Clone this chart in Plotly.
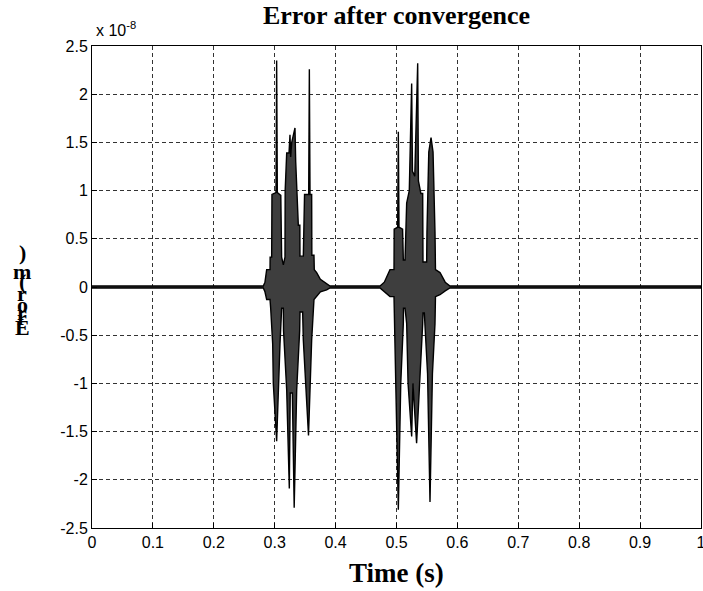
import plotly.graph_objects as go

# ---------------- data ----------------
# error envelope, units of 1e-8 m
t_upper = [0.0, 0.2813, 0.2840, 0.2868, 0.2923, 0.2925, 0.2950, 0.2955, 0.3021, 0.3032, 0.3043,
           0.3100, 0.3114, 0.3142, 0.3169, 0.3172, 0.3197, 0.3235, 0.3251, 0.3262, 0.3280,
           0.3333, 0.3345, 0.3360, 0.3388, 0.3413, 0.3415, 0.3470, 0.3490, 0.3558, 0.3569,
           0.3580, 0.3607, 0.3610, 0.3645, 0.3650, 0.3689, 0.3750, 0.3853, 0.3908,
           0.4729, 0.4800, 0.4893, 0.4959, 0.4962, 0.5019, 0.5030, 0.5041, 0.5100, 0.5112,
           0.5140, 0.5167, 0.5210, 0.5249, 0.5262, 0.5300, 0.5348, 0.5360, 0.5400, 0.5430,
           0.5435, 0.5495, 0.5500, 0.5530, 0.5567, 0.5600, 0.5632, 0.5640, 0.5714, 0.5800,
           0.5878, 1.0]
e_upper = [0.01, 0.01, 0.05, 0.18, 0.18, 0.31, 0.31, 0.96, 0.98, 2.35, 0.98,
           0.95, 0.31, 0.23, 0.31, 1.00, 1.39, 1.39, 1.58, 1.35, 1.50,
           1.65, 1.30, 1.00, 0.64, 0.64, 0.32, 0.32, 0.96, 0.96, 2.26,
           0.96, 0.96, 0.33, 0.33, 0.18, 0.15, 0.08, 0.04, 0.01,
           0.01, 0.05, 0.18, 0.18, 0.60, 0.62, 1.61, 0.62, 0.60, 0.28,
           0.28, 0.87, 1.00, 2.11, 1.20, 1.15, 2.32, 1.10, 0.97, 0.97,
           0.26, 0.26, 0.57, 1.40, 1.55, 1.40, 0.57, 0.18, 0.15, 0.05,
           0.01, 0.01]

t_lower = [0.0, 0.2813, 0.2840, 0.2868, 0.2923, 0.2934, 0.2967, 0.2977, 0.3032, 0.3060, 0.3087,
           0.3114, 0.3142, 0.3145, 0.3197, 0.3240, 0.3255, 0.3290, 0.3320, 0.3361, 0.3410,
           0.3415, 0.3459, 0.3470, 0.3500, 0.3555, 0.3590, 0.3607, 0.3645, 0.3689, 0.3750,
           0.3853, 0.3908,
           0.4729, 0.4800, 0.4893, 0.4959, 0.4962, 0.4990, 0.5030, 0.5070, 0.5112, 0.5115,
           0.5140, 0.5167, 0.5190, 0.5249, 0.5270, 0.5330, 0.5380, 0.5430, 0.5435, 0.5457,
           0.5460, 0.5510, 0.5550, 0.5590, 0.5632, 0.5640, 0.5714, 0.5800, 0.5878, 1.0]
e_lower = [-0.01, -0.01, -0.05, -0.13, -0.13, -0.22, -0.59, -1.00, -1.60, -1.00, -0.59,
           -0.22, -0.22, -0.45, -1.07, -2.09, -1.10, -1.10, -2.29, -1.07, -0.45,
           -0.26, -0.26, -0.55, -0.90, -1.54, -0.90, -0.55, -0.13, -0.10, -0.05,
           -0.03, -0.01,
           -0.01, -0.05, -0.10, -0.10, -0.38, -1.00, -2.31, -1.00, -0.38, -0.22,
           -0.22, -0.38, -1.00, -1.55, -1.00, -1.62, -1.00, -0.38, -0.27, -0.27,
           -0.38, -0.90, -2.23, -0.90, -0.38, -0.10, -0.08, -0.04, -0.01, -0.01]

x_ticks = [0, 0.1, 0.2, 0.3, 0.4, 0.5, 0.6, 0.7, 0.8, 0.9, 1]
x_tick_labels = ["0", "0.1", "0.2", "0.3", "0.4", "0.5", "0.6", "0.7", "0.8", "0.9", "1"]
y_ticks = [-2.5, -2, -1.5, -1, -0.5, 0, 0.5, 1, 1.5, 2, 2.5]
y_tick_labels = ["-2.5", "-2", "-1.5", "-1", "-0.5", "0", "0.5", "1", "1.5", "2", "2.5"]

title_text = "Error after convergence"
x_label = "Time (s)"
y_label_chars = [")", "m", "(", "r", "o", "r", "r", "E"]
y_label_char_pos = [252, 271, 281, 293, 304, 312, 317, 328]  # pixel rows of the garbled label

# ---------------- figure ----------------
W, H = 703, 591
L, R, T, B = 92, 2, 46, 63
ph = H - T - B

fig = go.Figure()
fig.add_trace(go.Scatter(
    x=t_upper + t_lower[::-1],
    y=e_upper + e_lower[::-1],
    mode="lines", fill="toself", fillcolor="#3e3e3e",
    line=dict(color="black", width=1.4),
    hoverinfo="skip", showlegend=False,
))

grid = dict(showgrid=True, gridcolor="#333333", gridwidth=1, griddash="4px,3px",
            zeroline=False, showline=True, linecolor="black", linewidth=1, mirror=True,
            ticks="inside", ticklen=5, tickcolor="black", ticklabeloverflow="allow",
            tickfont=dict(family="Liberation Sans, Arial", size=16, color="black"))

fig.update_xaxes(range=[0, 1], tickvals=x_ticks, ticktext=x_tick_labels, **grid)
fig.update_yaxes(range=[-2.5, 2.5], tickvals=y_ticks, ticktext=y_tick_labels, **grid)

fig.update_layout(
    width=W, height=H,
    margin=dict(l=L, r=R, t=T, b=B, autoexpand=False),
    paper_bgcolor="white", plot_bgcolor="white",
    title=dict(text=f"<b>{title_text}</b>", x=(L + (W - L - R) / 2) / W, xanchor="center",
               y=1 - 15 / H, yanchor="middle",
               font=dict(family="Liberation Serif, Times New Roman", size=26, color="black")),
    showlegend=False,
)

annotations = [
    dict(text="x 10<sup>-8</sup>", xref="paper", yref="paper", x=2 / (W - L - R), y=1 + 17 / ph,
         xanchor="left", yanchor="middle", showarrow=False,
         font=dict(family="Liberation Sans, Arial", size=16, color="black")),
    dict(text=f"<b>{x_label}</b>", xref="paper", yref="paper", x=0.5, y=-(573 - (H - B)) / ph,
         xanchor="center", yanchor="middle", showarrow=False,
         font=dict(family="Liberation Serif, Times New Roman", size=27, color="black")),
]
for ch, py in zip(y_label_chars, y_label_char_pos):
    annotations.append(dict(text=f"<b>{ch}</b>", xref="paper", yref="paper",
                            x=-(L - 22) / (W - L - R), y=((H - B) - py) / ph,
                            xanchor="center", yanchor="middle", showarrow=False,
                            font=dict(family="Liberation Serif, Times New Roman", size=22, color="black")))
fig.update_layout(annotations=annotations)

fig.write_html("out.html")
